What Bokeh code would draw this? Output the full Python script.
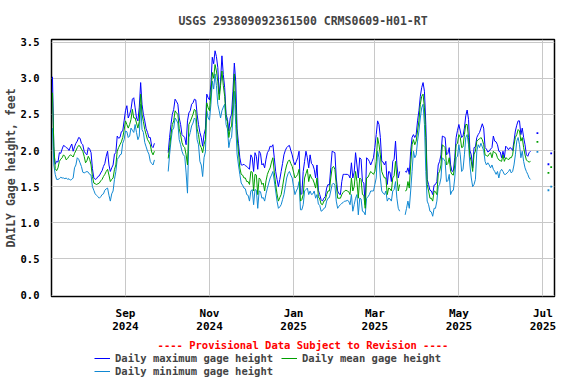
import pandas as pd
import numpy as np
from bokeh.plotting import figure
from bokeh.layouts import column
from bokeh.models import (Range1d, FixedTicker, Legend, LegendItem, Title,
                          NumeralTickFormatter, ColumnDataSource)
from bokeh.embed import file_html
from bokeh.resources import INLINE

nan = float("nan")

# ---------------- data (daily values) ----------------
start_date = "2024-07-10"

gage_max = [
    3.02, 1.99, 1.81, 1.85, 1.84, 1.97, 1.96, 2.02, 2.07, 2.06,
    2.04, 2.03, 2.00, 2.05, 2.09, 1.99, 2.05, 2.10, 2.13, 2.18,
    2.17, 2.10, 2.08, 1.99, 1.96, 1.94, 2.04, 2.02, 1.97, 1.75,
    1.62, 1.60, 1.61, 1.64, 1.65, 1.69, 1.72, 1.78, 1.82, 1.92,
    1.99, 1.80, 1.71, 1.76, 1.80, 1.95, 1.97, 2.20, 2.17, 2.18,
    2.26, 2.27, 2.41, 2.55, 2.62, 2.45, 2.50, 2.57, 2.71, 2.73,
    2.59, 2.45, 2.41, 2.60, 2.94, 2.64, 2.50, 2.41, 2.30, 2.25,
    2.18, 2.18, 2.06, 2.04, 2.10, nan, nan, nan, nan, nan,
    nan, nan, nan, nan, 1.97, 2.18, 2.36, 2.50, 2.57, 2.71,
    2.68, 2.64, 2.45, 2.36, 2.22, 2.20, 2.18, 2.08, 2.41, 2.52,
    2.55, 2.64, 2.66, 2.71, 2.70, 2.50, 2.36, 2.25, 2.18, 2.06,
    2.22, 2.30, 2.78, 2.73, 2.70, 2.92, 3.29, 3.20, 3.38, 3.30,
    3.15, 2.78, 2.96, 3.31, 3.05, 2.87, 2.50, 2.43, 2.27, 2.45,
    2.50, 2.82, 3.21, 2.96, 2.30, 2.10, 1.90, 1.80, 1.80, 1.81,
    1.79, 1.78, 1.76, 1.74, 1.94, 1.90, 1.71, 1.97, 1.92, 1.74,
    1.99, 1.96, 1.80, 1.82, 1.76, 1.88, 1.97, 2.00, 2.06, 2.05,
    2.08, 1.90, 1.71, 1.60, 1.50, 1.60, 1.71, 1.82, 1.94, 2.00,
    2.04, 2.06, 2.07, 2.00, 1.94, 1.85, 1.80, 1.85, 1.90, 1.99,
    1.39, 1.40, 1.71, 1.85, 1.99, 1.90, 1.76, 1.94, 1.82, 1.80,
    1.74, 1.62, 1.80, 1.45, 1.39, 1.32, 1.30, 1.34, 1.36, 1.48,
    1.53, 1.52, 1.76, 1.99, 1.98, 1.97, 1.62, 1.44, 1.40, 1.39,
    1.57, 1.67, 1.67, 1.67, 1.67, 1.66, 1.62, 1.83, 1.62, 1.70,
    1.97, 1.80, 1.62, 1.90, 1.88, 1.57, 1.55, 1.25, 1.90, 1.88,
    1.85, 1.80, 1.85, 1.90, 2.04, 2.22, 2.41, 2.36, 2.18, 1.85,
    1.84, 1.80, 1.85, 1.53, 1.71, 1.70, 1.57, 1.85, 1.88, 2.13,
    1.80, 1.62, 1.71, nan, nan, nan, 1.71, 1.70, 1.76, 1.67,
    1.99, 2.18, 2.22, 2.18, 2.22, 2.41, 2.55, 2.75, 2.87, 2.94,
    2.82, 2.36, 1.60, 1.53, 1.45, 1.44, 1.39, 1.52, 1.53, 1.57,
    1.80, 1.85, 1.94, 2.20, 2.19, 2.18, 1.94, 1.96, 2.04, 1.80,
    1.71, 1.72, 1.90, 2.18, 2.28, 2.36, 2.27, 2.18, 2.20, 2.31,
    2.48, 2.56, 2.43, 2.00, 1.94, 1.76, 2.04, 2.05, 2.18, 2.22,
    2.25, 2.31, 2.37, 2.31, 2.04, 2.02, 1.98, 1.99, 2.02, 2.04,
    2.20, 2.13, 2.12, 2.08, 1.99, 1.98, 1.90, 1.99, 1.90, 2.06,
    2.04, 2.01, 2.04, 2.03, 2.00, 2.13, 2.27, 2.35, 2.41, 2.41,
    2.22, 2.31, 2.18, 2.08, 1.94, 1.92, 1.97, 1.99, nan, nan,
    nan, nan, 2.24, nan, nan, nan, nan, nan, nan, nan,
    1.81, nan, 1.96, nan, nan,
]

gage_mean = [
    2.80, 2.06, 1.75, 1.72, 1.76, 1.85, 1.88, 1.90, 1.94, 1.92,
    1.87, 1.89, 1.92, 1.94, 1.93, 1.91, 1.96, 2.00, 2.04, 2.07,
    2.06, 2.02, 1.99, 1.92, 1.83, 1.86, 1.92, 1.88, 1.80, 1.64,
    1.55, 1.54, 1.53, 1.54, 1.55, 1.58, 1.60, 1.64, 1.67, 1.71,
    1.74, 1.66, 1.57, 1.60, 1.62, 1.74, 1.80, 1.99, 2.04, 2.08,
    2.12, 2.18, 2.28, 2.41, 2.36, 2.31, 2.36, 2.43, 2.57, 2.45,
    2.45, 2.38, 2.31, 2.40, 2.78, 2.50, 2.40, 2.29, 2.22, 2.15,
    2.12, 2.08, 1.98, 1.94, 1.99, nan, nan, nan, nan, nan,
    nan, nan, nan, nan, 1.89, 2.04, 2.22, 2.36, 2.41, 2.55,
    2.52, 2.50, 2.30, 2.22, 2.11, 2.06, 2.04, 1.94, 1.80, 2.36,
    2.40, 2.45, 2.50, 2.57, 2.55, 2.30, 2.22, 2.08, 2.04, 1.97,
    2.08, 2.15, 2.66, 2.59, 2.55, 2.78, 3.08, 3.00, 3.19, 3.10,
    2.96, 2.70, 2.90, 3.10, 2.90, 2.75, 2.45, 2.40, 2.18, 2.30,
    2.34, 2.64, 3.06, 2.64, 2.20, 1.98, 1.76, 1.67, 1.66, 1.62,
    1.62, 1.57, 1.57, 1.53, 1.71, 1.70, 1.44, 1.67, 1.66, 1.39,
    1.62, 1.60, 1.53, 1.55, 1.44, 1.58, 1.67, 1.72, 1.76, 1.84,
    1.90, 1.70, 1.53, 1.40, 1.30, 1.35, 1.39, 1.50, 1.62, 1.72,
    1.80, 1.85, 1.87, 1.82, 1.78, 1.70, 1.62, 1.64, 1.67, 1.74,
    1.30, 1.32, 1.39, 1.62, 1.68, 1.74, 1.57, 1.67, 1.62, 1.60,
    1.55, 1.48, 1.62, 1.36, 1.33, 1.26, 1.25, 1.30, 1.31, 1.39,
    1.44, 1.44, 1.62, 1.76, 1.78, 1.74, 1.53, 1.34, 1.34, 1.34,
    1.39, 1.42, 1.44, 1.45, 1.44, 1.43, 1.39, 1.62, 1.44, 1.50,
    1.71, 1.57, 1.34, 1.62, 1.60, 1.39, 1.38, 1.20, 1.62, 1.63,
    1.67, 1.71, 1.69, 1.67, 1.71, 1.85, 2.18, 2.08, 1.94, 1.71,
    1.66, 1.62, 1.62, 1.39, 1.48, 1.47, 1.44, 1.62, 1.65, 1.85,
    1.62, 1.44, 1.53, nan, nan, nan, 1.44, 1.45, 1.57, 1.48,
    1.80, 2.08, 2.15, 2.08, 2.13, 2.27, 2.41, 2.64, 2.75, 2.78,
    2.59, 2.18, 1.53, 1.44, 1.34, 1.34, 1.30, 1.44, 1.43, 1.39,
    1.68, 1.71, 1.80, 2.08, 2.06, 2.04, 1.80, 1.82, 1.90, 1.71,
    1.67, 1.66, 1.80, 2.08, 2.10, 2.22, 2.18, 2.04, 2.05, 2.22,
    2.36, 2.36, 2.18, 1.92, 1.85, 1.71, 1.95, 1.99, 2.13, 2.15,
    2.16, 2.18, 2.15, 2.08, 1.94, 1.93, 1.92, 1.95, 1.97, 1.90,
    1.99, 1.97, 1.96, 1.90, 1.87, 1.86, 1.85, 1.94, 1.85, 1.90,
    1.89, 1.87, 1.90, 1.90, 1.94, 2.08, 2.18, 2.22, 2.29, 2.27,
    2.13, 2.18, 2.04, 1.94, 1.87, 1.85, 1.84, 1.85, nan, nan,
    nan, nan, 2.12, nan, nan, nan, nan, nan, nan, nan,
    1.69, nan, 1.77, nan, nan,
]

gage_min = [
    2.31, 1.80, 1.67, 1.60, 1.60, 1.61, 1.63, 1.62, 1.62, 1.61,
    1.62, 1.60, 1.61, 1.59, 1.60, 1.62, 1.76, 1.80, 1.90, 1.88,
    1.83, 1.78, 1.70, 1.69, 1.70, 1.71, 1.70, 1.67, 1.66, 1.50,
    1.45, 1.40, 1.38, 1.36, 1.34, 1.36, 1.39, 1.40, 1.45, 1.47,
    1.48, 1.38, 1.30, 1.40, 1.44, 1.60, 1.71, 1.88, 1.90, 1.94,
    1.95, 2.10, 2.15, 2.27, 2.26, 2.18, 2.20, 2.31, 2.28, 2.25,
    2.36, 2.25, 2.15, 2.20, 2.64, 2.29, 2.25, 2.11, 2.05, 1.99,
    1.95, 1.85, 1.82, 1.80, 1.87, nan, nan, nan, nan, nan,
    nan, nan, nan, nan, 1.71, 1.94, 2.13, 2.28, 2.31, 2.45,
    2.42, 2.38, 2.15, 2.08, 1.99, 1.94, 1.92, 1.69, 1.41, 2.18,
    2.25, 2.34, 2.38, 2.45, 2.43, 2.15, 2.08, 1.85, 1.80, 1.64,
    1.90, 1.98, 2.55, 2.45, 2.42, 2.64, 2.96, 2.85, 3.06, 2.90,
    2.64, 2.55, 2.45, 2.55, 2.60, 2.64, 2.36, 2.30, 2.04, 2.15,
    2.18, 2.45, 2.82, 2.36, 1.95, 1.80, 1.67, 1.55, 1.52, 1.48,
    1.47, 1.39, 1.38, 1.30, 1.44, 1.46, 1.25, 1.46, 1.45, 1.20,
    1.44, 1.43, 1.34, 1.35, 1.30, 1.40, 1.48, 1.55, 1.62, 1.66,
    1.71, 1.58, 1.44, 1.30, 1.20, 1.22, 1.25, 1.32, 1.39, 1.50,
    1.62, 1.68, 1.71, 1.66, 1.62, 1.50, 1.39, 1.44, 1.48, 1.57,
    1.18, 1.18, 1.25, 1.44, 1.46, 1.48, 1.39, 1.44, 1.39, 1.40,
    1.44, 1.34, 1.39, 1.26, 1.24, 1.16, 1.17, 1.20, 1.21, 1.30,
    1.34, 1.35, 1.44, 1.53, 1.55, 1.52, 1.30, 1.20, 1.23, 1.25,
    1.27, 1.28, 1.30, 1.30, 1.31, 1.30, 1.25, 1.39, 1.16, 1.25,
    1.34, 1.39, 1.11, 1.34, 1.33, 1.16, 1.15, 1.11, 1.34, 1.36,
    1.39, 1.44, 1.44, 1.44, 1.53, 1.62, 1.99, 1.90, 1.62, 1.44,
    1.41, 1.39, 1.44, 1.30, 1.34, 1.33, 1.30, 1.44, 1.46, 1.57,
    1.34, 1.20, 1.16, nan, nan, nan, 1.11, 1.20, 1.30, 1.20,
    1.44, 1.71, 1.99, 1.90, 1.94, 2.13, 2.27, 2.45, 2.59, 2.64,
    2.36, 1.71, 1.30, 1.25, 1.16, 1.15, 1.09, 1.20, 1.20, 1.30,
    1.50, 1.53, 1.62, 1.90, 1.88, 1.85, 1.57, 1.58, 1.67, 1.39,
    1.44, 1.45, 1.62, 1.90, 1.92, 2.08, 1.94, 1.71, 1.74, 1.94,
    2.18, 2.22, 2.08, 1.80, 1.62, 1.50, 1.53, 1.60, 1.99, 2.08,
    2.04, 2.10, 2.05, 2.00, 1.85, 1.80, 1.83, 1.80, 1.76, 1.80,
    1.74, 1.71, 1.67, 1.71, 1.62, 1.71, 1.74, 1.71, 1.67, 1.67,
    1.69, 1.71, 1.74, 1.69, 1.71, 1.80, 1.94, 2.13, 2.18, 2.08,
    1.90, 1.99, 1.85, 1.76, 1.71, 1.67, 1.62, 1.60, nan, nan,
    nan, nan, 1.98, nan, nan, nan, nan, nan, nan, nan,
    1.45, nan, 1.50, nan, nan,
]

tick_dates = ["2024-09-01", "2024-11-01", "2025-01-01", "2025-03-01", "2025-05-01", "2025-07-01"]
tick_labels = ["Sep\n2024", "Nov\n2024", "Jan\n2025", "Mar\n2025", "May\n2025", "Jul\n2025"]
y_ticks = [0.0, 0.5, 1.0, 1.5, 2.0, 2.5, 3.0, 3.5]

series_names = ["Daily maximum gage height", "Daily mean gage height", "Daily minimum gage height"]
series_colors = ["#0000ff", "#009f00", "#1188d2"]

# ---------------- main figure ----------------
FONT = "DejaVu Sans Mono"
dates = pd.date_range(start_date, periods=len(gage_max), freq="D")
t0 = pd.Timestamp(start_date)
x_start = t0 - pd.Timedelta(hours=17)
x_end = t0 + pd.Timedelta(hours=364.4 * 24)

p = figure(frame_width=503, frame_height=257, x_axis_type="datetime",
           x_range=Range1d(x_start, x_end), y_range=Range1d(-0.02, 3.536),
           output_backend="svg", toolbar_location=None,
           min_border_left=43, min_border_right=14, min_border_top=32, min_border_bottom=53)

p.title.text = "USGS 293809092361500 CRMS0609-H01-RT"
p.title.align = "center"
p.title.text_font = FONT
p.title.text_font_size = "11.5px"
p.title.text_font_style = "bold"
p.title.standoff = 23

p.outline_line_color = "black"
p.outline_line_width = 1.5
p.background_fill_color = "white"
p.border_fill_color = "white"

tick_ms = [float(pd.Timestamp(d).value // 10**6) for d in tick_dates]
p.xaxis.ticker = FixedTicker(ticks=tick_ms)
p.xgrid.ticker = FixedTicker(ticks=tick_ms)
p.xaxis.major_label_overrides = {t: lab for t, lab in zip(tick_ms, tick_labels)}
p.yaxis.ticker = FixedTicker(ticks=y_ticks)
p.ygrid.ticker = FixedTicker(ticks=y_ticks)
p.yaxis.formatter = NumeralTickFormatter(format="0.0")

for ax in (p.xaxis, p.yaxis):
    ax.axis_line_color = None
    ax.major_tick_line_color = None
    ax.minor_tick_line_color = None
    ax.major_tick_out = 0
    ax.major_tick_in = 0
    ax.minor_tick_out = 0
    ax.minor_tick_in = 0
    ax.major_label_text_font = FONT
    ax.major_label_text_font_style = "bold"
    ax.major_label_text_color = "black"
p.xaxis.major_label_text_font_size = "11px"
p.xaxis.major_label_text_line_height = 1.0
p.yaxis.major_label_text_font_size = "10.5px"
p.xaxis.major_label_standoff = 10
p.yaxis.major_label_standoff = 12
p.yaxis.axis_label = "DAILY Gage height, feet"
p.yaxis.axis_label_text_font = FONT
p.yaxis.axis_label_text_font_style = "bold"
p.yaxis.axis_label_text_font_size = "11.5px"
p.yaxis.axis_label_standoff = 0

for g in (p.xgrid, p.ygrid):
    g.grid_line_color = "#c8c8c8"
    g.grid_line_width = 1

for vals, color in zip([gage_max, gage_min, gage_mean],
                       [series_colors[0], series_colors[2], series_colors[1]]):
    arr = np.array(vals, dtype=float)
    src = ColumnDataSource(dict(x=dates, y=arr))
    p.line("x", "y", source=src, line_color=color, line_width=1)
    # isolated readings (no neighbours) are shown as dots
    ok = np.isfinite(arr)
    prev_ok = np.r_[False, ok[:-1]]
    next_ok = np.r_[ok[1:], False]
    iso = ok & ~prev_ok & ~next_ok
    if iso.any():
        p.scatter(dates[iso], arr[iso], marker="square", size=1.8,
                  fill_color=color, line_color=None)

prov = Title(text="---- Provisional Data Subject to Revision ----", align="center",
             text_color="red", text_font=FONT, text_font_style="bold",
             text_font_size="10.5px", offset=-29, standoff=2)
p.add_layout(prov, "below")

# ---------------- legend strip ----------------
p2 = figure(width=560, height=26, x_range=Range1d(0, 10), y_range=Range1d(0, 10),
            x_axis_location=None, y_axis_location=None, output_backend="svg",
            toolbar_location=None, min_border=0, min_border_left=0, min_border_right=0,
            min_border_top=0, min_border_bottom=0)
p2.grid.visible = False
p2.outline_line_color = None
p2.background_fill_color = "white"
p2.border_fill_color = "white"
# off-screen stand-ins so that the legend can draw each series' line swatch
leg_r = [p2.line([-20, -10], [-20, -20], line_color=c, line_width=1) for c in series_colors]

common = dict(orientation="horizontal", label_text_font=FONT, label_text_font_style="bold",
              label_text_font_size="10.5px", glyph_width=16, glyph_height=12,
              label_height=12, label_standoff=5, spacing=8, padding=0, margin=0,
              border_line_color=None, background_fill_alpha=0)
legend1 = Legend(items=[LegendItem(label=series_names[0], renderers=[leg_r[0]]),
                        LegendItem(label=series_names[1], renderers=[leg_r[1]])],
                 location=(43, 13), **common)
legend2 = Legend(items=[LegendItem(label=series_names[2], renderers=[leg_r[2]])],
                 location=(43, 0), **common)
p2.add_layout(legend1, "center")
p2.add_layout(legend2, "center")

open("out.html", "w").write(file_html(column(p, p2, spacing=0), INLINE))
